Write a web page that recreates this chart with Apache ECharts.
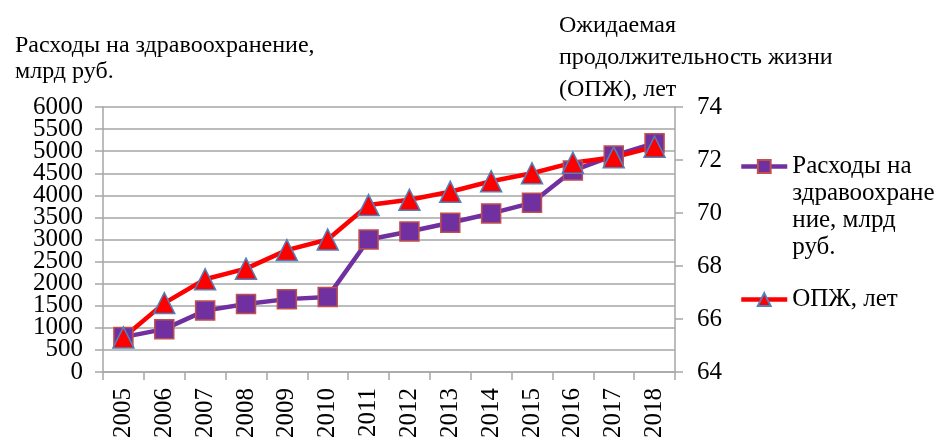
<!DOCTYPE html>
<html><head><meta charset="utf-8">
<script src="https://cdn.jsdelivr.net/npm/echarts@6/dist/echarts.min.js"></script>
<style>html,body{margin:0;padding:0;background:#fff}#c{width:941px;height:441px}</style>
</head><body><div id="c"></div>
<script>
const years = ['2005','2006','2007','2008','2009','2010','2011','2012','2013','2014','2015','2016','2017','2018'];
const spending = [790, 970, 1390, 1540, 1650, 1700, 3000, 3180, 3380, 3590, 3830, 4560, 4900, 5180];
const lifeExp = [65.3, 66.6, 67.5, 67.9, 68.6, 69.0, 70.3, 70.5, 70.8, 71.2, 71.5, 71.9, 72.1, 72.5];
const leftTicks = {min: 0, max: 6000, interval: 500};
const leftLabelsEven = [0, 1000, 2000, 3000, 4000, 5000, 6000];
const leftLabelsOdd = [500, 1500, 2500, 3500, 4500, 5500];
const rightTicks = {min: 64, max: 74, interval: 2};
const nameSpending = 'Расходы на здравоохранение, млрд руб.';
const nameSpendingLines = ['Расходы на', 'здравоохране', 'ние, млрд', 'руб.'];
const nameLife = 'ОПЖ, лет';
const leftTitle = 'Расходы на здравоохранение,\nмлрд руб.';
const rightTitle = 'Ожидаемая\nпродолжительность жизни\n(ОПЖ), лет';

const FONT = 'Liberation Serif';
const chart = echarts.init(document.getElementById('c'));
const gridCol = '#A6A6A6';
const legendBase = {
  orient: 'vertical', left: 734, itemWidth: 46, itemHeight: 16, itemGap: 0,
  lineStyle: {width: 4.5},
  textStyle: {fontFamily: FONT, fontSize: 25, color: '#000', lineHeight: 27}
};
const NB = '\u00a0';
const labelText = {fontFamily: FONT, fontSize: 25, color: '#000', formatter: v => String(v)};
chart.setOption({
  animation: false,
  textStyle: {fontFamily: FONT, color: '#000'},
  title: [
    {text: leftTitle, left: 10, top: 28, textStyle: {fontFamily: FONT, fontSize: 24, fontWeight: 'normal', color: '#000', lineHeight: 26}},
    {text: rightTitle, left: 554, top: 5, textStyle: {fontFamily: FONT, fontSize: 24, fontWeight: 'normal', color: '#000', lineHeight: 32}}
  ],
  legend: [
    Object.assign({}, legendBase, {top: 148 - 81, data: [nameSpending],
      formatter: () => [NB, NB, NB].concat(nameSpendingLines).join('\n')}),
    Object.assign({}, legendBase, {top: 281, data: [nameLife]})
  ],
  grid: {left: 103, right: 266, top: 107, bottom: 68},
  xAxis: {
    type: 'category', data: years, boundaryGap: true,
    axisLine: {lineStyle: {color: gridCol, width: 1.5}},
    axisTick: {show: true, length: 8, lineStyle: {color: gridCol, width: 1.5}},
    axisLabel: Object.assign({rotate: 90, margin: 16, interval: 0}, labelText)
  },
  yAxis: [
    {type: 'value', position: 'left', min: leftTicks.min, max: leftTicks.max, interval: leftTicks.interval,
     axisLine: {show: true, lineStyle: {color: gridCol, width: 1.5}},
     axisTick: {show: true, length: 8, lineStyle: {color: gridCol, width: 1.5}},
     splitLine: {lineStyle: {color: gridCol, width: 1.5}},
     axisLabel: Object.assign({margin: 20, customValues: leftLabelsEven, showMinLabel: true, showMaxLabel: true}, labelText)},
    {type: 'value', position: 'left', offset: 0, min: leftTicks.min, max: leftTicks.max, interval: leftTicks.interval,
     axisLine: {show: false}, axisTick: {show: false}, splitLine: {show: false},
     axisLabel: Object.assign({margin: 20, customValues: leftLabelsOdd, showMinLabel: true, showMaxLabel: true}, labelText)},
    {type: 'value', position: 'right', min: rightTicks.min, max: rightTicks.max, interval: rightTicks.interval,
     axisLine: {show: true, lineStyle: {color: gridCol, width: 1.5}},
     axisTick: {show: true, length: 8, lineStyle: {color: gridCol, width: 1.5}},
     splitLine: {show: false},
     axisLabel: Object.assign({margin: 22, showMinLabel: true, showMaxLabel: true}, labelText)}
  ],
  series: [
    {name: nameSpending, type: 'line', yAxisIndex: 0, data: spending,
     symbol: 'rect', symbolSize: 19,
     lineStyle: {color: '#7030A0', width: 4.5},
     itemStyle: {color: '#7030A0', borderColor: '#C0504D', borderWidth: 1.5}},
    {name: nameLife, type: 'line', yAxisIndex: 2, data: lifeExp,
     symbol: 'triangle', symbolSize: 21,
     lineStyle: {color: '#FF0000', width: 4.5},
     itemStyle: {color: '#FF0000', borderColor: '#4F81BD', borderWidth: 1.5}}
  ]
});
</script></body></html>
